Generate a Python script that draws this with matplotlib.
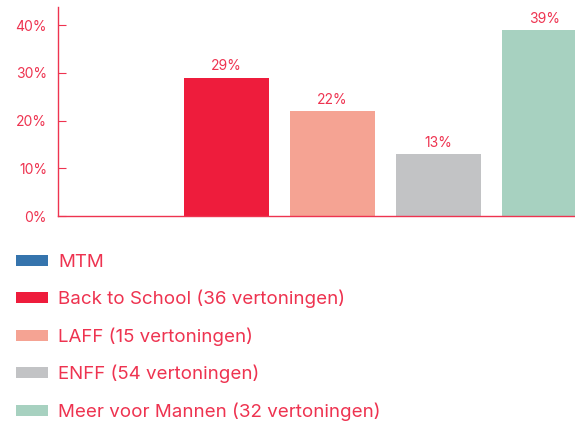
import matplotlib.pyplot as plt

categories = ["MTM", "Back to School (36 vertoningen)", "LAFF (15 vertoningen)",
              "ENFF (54 vertoningen)", "Meer voor Mannen (32 vertoningen)"]
values = [0, 29, 22, 13, 39]
colors = ["#3574ad", "#ee1c3c", "#f5a393", "#c2c3c5", "#a7d1c0"]
yticks = [0, 10, 20, 30, 40]

red = "#ee3350"
plt.rcParams['font.family'] = ['Inter', 'DejaVu Sans']

fig = plt.figure(figsize=(5.75, 4.22), dpi=100)
ax = fig.add_axes([0.101, 0.488, 0.899, 0.4955])

x = range(len(values))
bars = ax.bar(x, values, width=0.8, color=colors, label=categories)

labels = [f"{v}%" if v > 0 else "" for v in values]
ax.bar_label(bars, labels=labels, padding=3, color=red, fontsize=10)

ax.set_xlim(-0.59, 4.29)
ax.set_ylim(0, 43.8)
ax.set_yticks(yticks)
ax.set_yticklabels([f"{t}%" for t in yticks])
ax.set_xticks([])
ax.tick_params(axis='y', direction='in', length=6, color=red, labelcolor=red,
               labelsize=10, pad=8)

for s in ["top", "right"]:
    ax.spines[s].set_visible(False)
for s in ["left", "bottom"]:
    ax.spines[s].set_color(red)
    ax.spines[s].set_linewidth(1)

leg = fig.legend(handles=bars, labels=categories, loc='upper left',
                 bbox_to_anchor=(0.028, 0.398), frameon=False, fontsize=13.5,
                 handlelength=1.68, handleheight=0.53, handletextpad=0.58,
                 labelspacing=1.01, borderpad=0, borderaxespad=0)
for t in leg.get_texts():
    t.set_color(red)

fig.savefig("out.png", dpi=100)
